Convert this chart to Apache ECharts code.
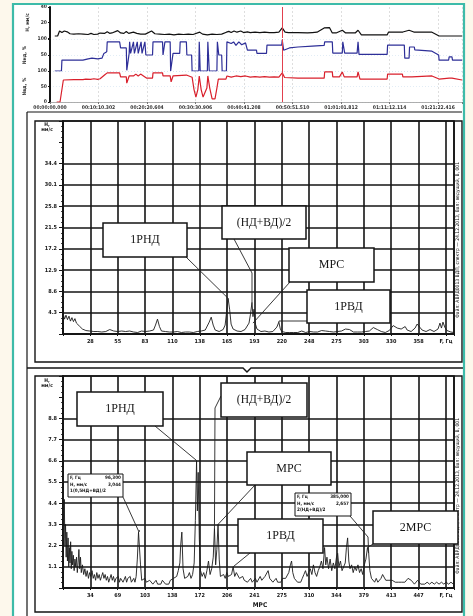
<!DOCTYPE html>
<html>
<head>
<meta charset="utf-8">
<style>
  html, body { margin: 0; padding: 0; background: #fdf8ec; }
  #chart { width: 473px; height: 616px; }
</style>
<script src="https://cdn.jsdelivr.net/npm/echarts@6.0.0/dist/echarts.min.js"></script>
</head>
<body>
<div id="chart"></div>
<script>
// ---- trend panel (time in minutes) ----
const trendStep = 10.1717          // 00:10:10.302 between time ticks
const trendEnd = 86.4
const cursorTime = 48.74

const vibTrace = [[1.0,2.6],[1.6,2.6],[2.0,9],[2.5,7],[3.0,9],[3.6,8],[4.2,5.5],[5,5],[6,5.5],[7,5],[8,4.5],[8.6,6],[9.2,4.5],[10,5],[10.5,6.4],[11.5,6],[12,8],[12.5,6],[13,6.5],[14.2,9.5],[14.8,6.5],[15.5,6],[16,8.5],[16.5,6],[17.5,7.5],[18.2,6],[19,5],[20,5],[21.3,9],[22,5.5],[23,5],[24,4.5],[25,5],[26,4],[27,5],[28,4.5],[29,5],[30,4.5],[31.4,7.5],[32,5],[33,4],[34,5],[35,4.5],[36,5],[37,7.5],[37.5,8.5],[38,7],[38.6,9],[39.2,7.5],[40,9],[40.6,7],[41.4,8],[42,7],[43,7.5],[44,7],[45,7.5],[46,7],[47,7],[48,7.5],[48.7,13],[49.3,7.5],[50,7],[52,7],[54,6.5],[55,7],[56,7.5],[57.5,13],[58.6,13.5],[59.2,6.5],[60,6.5],[61.3,10],[62,6.5],[64,6.5],[64.6,10],[65.3,4],[68,4],[70.7,4],[71,7.7],[72,7.5],[74,7.7],[75.3,10],[76.3,7.7],[78,7.5],[80,7.7],[81.6,2.6],[84,2.6],[86.4,2.6]]

const lpTrace = [[1.0,0],[2.4,0],[2.5,34],[6.9,34],[7.3,40],[8,38],[8.8,40],[9.2,36],[10,38],[10.9,40],[11.3,55],[11.9,60],[12,91],[14.6,91],[14.8,72],[16.0,72],[16.1,2],[16.6,55],[16.7,91],[16.9,55],[17.5,91],[17.7,55],[18.3,91],[18.5,55],[19.1,91],[19.3,55],[19.9,91],[20.1,50],[21.5,50],[21.6,91],[23.6,91],[23.7,50],[24.0,50],[24.1,91],[25.2,91],[25.3,0],[25.7,0],[25.8,55],[27.2,55],[27.3,91],[28.6,91],[28.7,50],[29.7,50],[29.8,0],[31.2,0],[31.3,91],[31.5,0],[33.0,0],[33.1,91],[33.4,0],[35.0,0],[35.1,91],[35.4,50],[36.0,50],[36.1,0],[37.0,0],[37.1,91],[38,86],[38.5,91],[39,80],[39.6,91],[40.2,82],[41,88],[41.4,65],[43.3,65],[43.4,55],[45.4,55],[45.5,81],[48.6,81],[48.7,97],[49.0,65],[50.2,72],[52,75],[55,78],[57.5,80],[57.6,91],[59.2,91],[59.3,56],[61.3,56],[61.4,91],[61.8,56],[64.4,56],[64.6,91],[64.8,52],[70.7,52],[70.8,81],[74.3,81],[74.4,40],[75.3,40],[75.4,75],[76.4,75],[76.5,66],[80.1,62],[81.5,50],[81.6,34],[83.6,34],[83.7,44],[84.3,44],[84.4,34],[86.4,34]]

const hpTrace = [[1.4,0],[2.1,0],[2.8,71],[5,72],[6.9,72],[7.5,74],[8.5,73],[9.2,75],[10,73],[10.5,75],[11.5,88],[12,94],[14.6,94],[14.8,81],[16.0,81],[16.1,61],[16.6,84],[17,90],[17.5,84],[18,90],[18.5,84],[19,90],[19.6,84],[20.3,77],[21.5,77],[21.6,94],[23.6,94],[23.7,84],[25.2,84],[25.4,65],[25.8,84],[26,87],[28.6,87],[28.8,84],[29.8,80],[30.2,40],[30.6,16],[31.0,40],[31.3,84],[31.7,40],[32.1,16],[32.5,14],[32.9,45],[33.1,84],[33.5,45],[34.0,10],[34.6,10],[35.0,45],[35.3,74],[36.9,74],[37.1,84],[38,80],[39,84],[40,82],[41,84],[42,80],[43,82],[44,80],[45,82],[46,80],[47,81],[48,80],[48.7,94],[49.2,79],[52,77],[55,77],[57.5,77],[57.6,97],[59.2,97],[59.3,81],[60.7,81],[61.3,97],[61.7,81],[64.4,81],[64.6,97],[65.0,74],[70.7,74],[70.8,90],[73.9,90],[74.0,81],[75.9,81],[76.0,84],[80.1,84],[81.6,74],[83.7,77],[84.3,77],[84.4,71],[86.4,71]]

// ---- spectrum 1 ----
const midStep = 27.5
const midMax = 393.1
const midXLabels = ['28','55','83','110','138','165','193','220','248','275','303','330','358','F, Гц']
const midYTicks = [4.3, 8.6, 12.9, 17.2, 21.5, 25.8, 30.1, 34.4]
const midSpectrum = [[0,4.2],[1.5,3.0],[3,3.8],[4.5,2.9],[6,3.6],[7.5,2.6],[9,3.3],[10.5,2.5],[12,3.1],[13.5,2.2],[15,2.6],[16.5,1.6],[18,1.9],[19.5,1.0],[21,1.4],[23,0.7],[25,1.0],[27,0.6],[29,0.8],[31,0.5],[33,0.9],[35,0.5],[37,0.6],[39,0.4],[41,0.7],[43,0.5],[45,0.8],[47,0.9],[49,0.5],[51,0.6],[53,0.4],[55,0.5],[57,0.3],[59,0.6],[61,0.4],[63,0.5],[65,0.3],[67,0.6],[69,0.7],[71,0.4],[73,0.5],[75,0.3],[77,0.4],[79,0.6],[81,0.4],[83,0.5],[85,0.4],[87,0.6],[89,0.5],[91,0.8],[93,1.8],[95,3.0],[97,1.5],[99,0.6],[101,0.4],[103,0.5],[105,0.3],[107,0.4],[109,0.3],[111,0.4],[113,0.3],[115,0.5],[117,0.4],[119,0.3],[121,0.5],[123,0.4],[125,0.6],[127,0.4],[129,0.5],[131,0.3],[133,0.4],[135,0.5],[137,0.4],[139,0.6],[141,0.5],[143,0.8],[145,1.2],[147,2.4],[149,3.4],[151,1.8],[153,0.8],[155,0.6],[157,0.5],[159,0.7],[161,0.9],[163,1.8],[164.5,4.5],[166,7.2],[167.5,5.0],[169,2.0],[171,1.0],[173,0.8],[175,0.6],[177,0.7],[179,0.5],[181,0.8],[183,0.9],[185,1.2],[187,2.2],[188.5,4.0],[190,6.4],[191,3.5],[192,5.0],[193.5,2.0],[195,1.0],[197,0.7],[199,0.5],[201,0.4],[203,0.6],[205,0.5],[207,0.4],[209,0.6],[211,0.5],[213,0.7],[215,1.4],[217,2.4],[218.5,1.0],[220,0.5],[222,0.4],[224,0.3],[226,0.4],[228,0.3],[230,0.4],[232,0.3],[234,0.5],[236,0.3],[238,0.4],[240,0.6],[242,0.4],[244,0.3],[246,0.4],[248,0.5],[250,0.3],[252,0.4],[254,0.5],[256,0.4],[258,0.6],[260,0.7],[262,0.9],[264,0.6],[266,0.4],[268,0.5],[270,0.3],[272,0.4],[274,0.3],[276,0.5],[278,0.4],[280,0.6],[282,0.8],[284,1.0],[286,1.2],[288,0.9],[290,0.6],[292,0.4],[294,0.3],[296,0.4],[298,0.3],[300,0.4],[302,0.3],[304,0.5],[306,0.4],[308,0.6],[310,0.8],[312,1.3],[314,1.4],[316,0.9],[318,0.6],[320,0.5],[322,0.4],[324,0.3],[326,0.5],[328,0.7],[330,1.1],[332,1.7],[334,2.1],[336,1.2],[338,0.8],[340,1.0],[342,1.4],[344,1.5],[346,0.8],[348,0.6],[350,0.5],[352,0.7],[354,1.2],[356,2.0],[357,2.4],[359,1.3],[361,0.8],[363,0.6],[365,0.5],[367,0.7],[369,0.9],[371,0.6],[373,0.5],[375,0.6],[377,1.0],[379,2.2],[380.5,1.2],[382,2.4],[384,1.3],[386,0.7],[388,0.5],[390,0.4],[393,0.3]]
const midNoteLabels = ['1РНД', '(НД+ВД)/2', 'МРС', '1РВД']
const midNoteAnchors = [[166, 7.2], [190, 6.4], [191, 2.2], [217, 2.4]]

// ---- spectrum 2 ----
const lowStep = 34.4
const lowMax = 491.8
const lowXLabels = ['34','69','103','138','172','206','241','275','310','344','379','413','447','F, Гц']
const lowYTicks = [1.1, 2.2, 3.3, 4.4, 5.5, 6.6, 7.7, 8.8]
const lowSpectrum = [[0,6.2],[0.8,2.6],[1.6,4.6],[2.4,2.2],[3.2,3.3],[4,1.6],[4.8,2.9],[5.6,1.4],[6.4,2.6],[7.2,1.1],[8,2.1],[8.8,1.3],[9.6,2.4],[10.4,1.0],[11.2,1.9],[12,1.2],[13,1.7],[14,0.9],[15,1.5],[16,1.1],[17,1.6],[18,0.8],[19,1.3],[20,2.0],[21,1.0],[22,1.6],[23,0.8],[24.5,1.2],[26,0.7],[27.5,1.0],[29,0.6],[30.5,0.9],[32,0.5],[33.5,0.8],[35,0.6],[36.5,0.9],[38,0.5],[39.5,0.7],[41,0.4],[42.5,0.8],[44,0.5],[45.5,0.7],[47,0.4],[48.5,0.6],[50,0.8],[51.5,0.5],[53,0.7],[54.5,0.4],[56,0.6],[57.5,0.3],[59,0.5],[60.5,0.7],[62,0.4],[63.5,0.6],[65,0.3],[66.5,0.5],[68,0.4],[69.5,0.6],[71,0.3],[72.5,0.5],[74,0.6],[75.5,0.3],[77,0.4],[78.5,0.6],[80,0.3],[81.5,0.5],[83,0.4],[84.5,0.6],[86,0.3],[87.5,0.4],[89,0.5],[90.5,0.3],[92,0.6],[93.5,1.5],[95,2.9],[96.3,3.0],[97.5,1.2],[99,0.4],[101,0.3],[103,0.5],[105,0.3],[107,0.2],[109,0.4],[111,0.3],[113,0.2],[115,0.3],[117,0.4],[119,0.2],[121,0.3],[123,0.2],[125,0.4],[127,0.3],[129,0.2],[131,0.3],[133,0.2],[135,0.4],[137,0.3],[139,0.5],[141,0.4],[143,0.6],[145,0.9],[147,1.3],[148,2.2],[149.5,2.9],[151,1.0],[153,0.5],[155,0.4],[157,0.6],[159,0.8],[161,0.5],[163,0.7],[165,1.3],[166.5,3.5],[168,6.6],[169,4.0],[170,6.0],[171.5,2.5],[173,0.9],[175,0.6],[177,0.8],[179,0.5],[181,0.9],[183,1.4],[185,0.7],[187,1.0],[189,1.6],[190.5,3.1],[192,1.2],[193.5,2.0],[195,3.3],[196.5,1.5],[198,0.6],[200,0.5],[202,0.7],[204,0.5],[206,0.8],[208,0.6],[210,0.5],[212,0.7],[214,1.1],[216,0.6],[218,0.8],[220,0.9],[222,0.5],[224,0.4],[226,0.6],[228,0.4],[230,0.5],[232,0.3],[234,0.4],[236,0.5],[238,0.3],[240,0.4],[242,0.5],[244,0.3],[246,0.4],[248,0.6],[250,0.4],[252,0.5],[254,0.6],[256,0.7],[258,0.9],[260,0.5],[262,0.4],[264,0.3],[266,0.4],[268,0.5],[270,0.3],[272,0.4],[274,0.3],[276,0.5],[278,0.4],[280,0.5],[282,0.6],[284,0.8],[286,1.2],[287.5,1.4],[289,0.8],[291,0.5],[293,0.4],[295,0.3],[297,0.4],[299,0.3],[301,0.5],[303,0.7],[305,0.9],[307,0.6],[309,0.8],[311,1.0],[313,0.7],[315,1.2],[317,0.8],[319,0.6],[321,0.9],[323,1.1],[325,1.4],[327,1.0],[329,2.1],[330.5,1.2],[332,1.6],[334,1.0],[336,1.5],[338,0.9],[340,1.3],[342,1.0],[344,1.6],[345.5,1.8],[347,1.1],[349,1.4],[351,0.9],[353,1.0],[355,1.3],[356.5,2.1],[358,2.6],[359.5,1.4],[361,1.0],[363,1.2],[365,0.8],[367,1.1],[369,0.9],[371,1.2],[373,0.8],[375,1.0],[377,0.7],[379,1.2],[381,1.5],[383,2.1],[384.5,1.8],[386,0.9],[388,0.5],[390,0.4],[392,0.3],[394,0.5],[396,0.3],[398,0.4],[400,0.5],[402,0.7],[404,0.6],[406,0.4],[408,0.3],[410,0.4],[412,0.3],[414,0.4],[416,0.5],[418,0.3],[420,0.4],[422,0.3],[424,0.4],[426,0.3],[428,0.2],[430,0.3],[432,0.4],[434,0.5],[436,0.6],[438,0.4],[440,0.3],[442,0.2],[444,0.3],[446,0.4],[448,0.3],[450,0.2],[452,0.3],[455,0.2],[458,0.3],[461,0.2],[464,0.3],[467,0.2],[470,0.3],[473,0.2],[476,0.3],[479,0.2],[482,0.3],[485,0.2],[488,0.3],[491,0.2]]
const lowNoteLabels = ['1РНД', '(НД+ВД)/2', 'МРС', '1РВД', '2МРС']
const lowNoteAnchors = [[168, 6.6], [190.5, 3.1], [195, 3.3], [214, 1.1], [383, 2.1]]
const cursorLabels = [['F, Гц', '96,300', 'Н, мм/с', '3,044', '1(0,5НД+ВД)/2'], ['F, Гц', '385,000', 'Н, мм/с', '2,657', '2(НД+ВД)/2']]
const cursorAnchors = [[96.3, 3.0], [384.5, 1.8]]

// ---- layout (pixels) ----
const midBoxes = [
  { x: 103, y: 223, w: 84, h: 34, size: 12, bend: [[186, 257]] },
  { x: 222, y: 206, w: 84, h: 33, size: 11.5, bend: [[234, 239], [252, 273]] },
  { x: 289, y: 248, w: 85, h: 34, size: 12, bend: [[290, 282]] },
  { x: 307, y: 290, w: 83, h: 33, size: 12, bend: [[307, 321], [279, 321]] }
]
const lowBoxes = [
  { x: 77, y: 392, w: 86, h: 34, size: 12, bend: [[155, 426], [196, 460]] },
  { x: 221, y: 383, w: 86, h: 34, size: 11.5, bend: [[221, 396], [215, 408]] },
  { x: 247, y: 452, w: 84, h: 33, size: 12, bend: [[255, 485]] },
  { x: 238, y: 519, w: 85, h: 34, size: 12, bend: [[250, 553]] },
  { x: 373, y: 511, w: 85, h: 33, size: 12, bend: [[373, 544]] }
]
const cursorBoxes = [
  { x: 68, y: 474, w: 55, h: 23, bend: [[123, 497], [139, 532]] },
  { x: 295, y: 493, w: 56, h: 23, bend: [[350, 516], [368, 537]] }
]

const INK = '#151515'
const TICK_FONT = "'Liberation Sans Narrow', 'DejaVu Sans Condensed', 'Liberation Sans', sans-serif"
const BOX_FONT = "'Liberation Serif', 'DejaVu Serif', serif"

const pad = (n, l = 2) => String(n).padStart(l, '0')
const timeLabel = (min) => {
  if (Math.abs(min / trendStep - Math.round(min / trendStep)) > 1e-3) return ''
  const ms = Math.round(Math.round(min / trendStep) * trendStep * 60000)
  return pad(Math.floor(ms / 3600000)) + ':' + pad(Math.floor(ms / 60000) % 60) + ':' +
    pad(Math.floor(ms / 1000) % 60) + '.' + pad(ms % 1000, 3)
}
const stepLabel = (labels, step) => (v) => {
  const k = Math.round(v / step)
  if (k < 1 || Math.abs(v - k * step) > 1e-3) return ''
  return labels[k - 1] || ''
}
const tickLabel = (ticks) => (v) => ticks.some(t => Math.abs(t - v) < 1e-3) ? v.toFixed(1) : ''

const trendGrids = [
  { left: 50, right: 11, top: 7, height: 31 },
  { left: 50, right: 11, top: 39, height: 32 },
  { left: 50, right: 11, top: 71, height: 31 }
]
const trendNames = ['Н, мм/с', 'Nнд, %', 'Nвд, %']
const trendMax = [40, 100, 100]
const trendInterval = [20, 50, 50]
const trendShown = [[20, 40], [50, 100], [0, 50, 100]]
const trendData = [vibTrace, lpTrace, hpTrace]
const trendColors = ['#111111', '#2e2f98', '#d9202c']

const trendX = trendGrids.map((g, i) => ({
  type: 'value', gridIndex: i, min: 0, max: trendEnd, interval: trendStep,
  axisLine: { show: i === 2, lineStyle: { color: '#9a9a9a', width: 0.8 } },
  axisTick: { show: i === 2, length: 2, lineStyle: { color: '#777' } },
  axisLabel: { show: i === 2, formatter: timeLabel, fontSize: 5, color: '#333', margin: 3, fontFamily: TICK_FONT, fontWeight: 'bold' },
  splitLine: { show: true, lineStyle: { color: '#c8c8c8', width: 0.6, type: [2, 2] } }
}))
const trendY = trendGrids.map((g, i) => ({
  type: 'value', gridIndex: i, min: 0, max: trendMax[i], interval: trendInterval[i],
  name: trendNames[i], nameLocation: 'middle', nameRotate: 90, nameGap: 11,
  nameTextStyle: { fontSize: 5, color: '#333', fontFamily: TICK_FONT, fontWeight: 'bold' },
  axisLine: { show: true, lineStyle: { color: INK, width: 2 } },
  axisTick: { show: true, length: 2, lineStyle: { color: INK } },
  axisLabel: {
    fontSize: 5, color: '#333', margin: 3, fontFamily: TICK_FONT, fontWeight: 'bold',
    formatter: (v) => trendShown[i].includes(v) ? String(v) : ''
  },
  splitLine: { show: i > 0, lineStyle: { color: '#cfe0f0', width: 0.6, type: [1, 2] } }
}))
const trendSeries = trendData.map((d, i) => ({
  type: 'line', xAxisIndex: i, yAxisIndex: i, data: d, symbol: 'none',
  lineStyle: { color: trendColors[i], width: 1.2 }, z: 3,
  markLine: {
    silent: true, symbol: ['none', 'none'], label: { show: false },
    lineStyle: { color: '#e2404e', width: 1, type: 'solid' },
    data: [{ xAxis: cursorTime }]
  }
}))

const specX = (grid, step, max, labels) => ({
  type: 'value', gridIndex: grid, min: 0, max: max, interval: step,
  axisLine: { show: true, lineStyle: { color: INK, width: 2 } },
  axisTick: { show: true, length: 2, lineStyle: { color: INK } },
  axisLabel: { formatter: stepLabel(labels, step), fontSize: 5.5, color: INK, margin: 5, fontFamily: TICK_FONT, fontWeight: 'bold' },
  splitLine: { show: true, lineStyle: { color: INK, width: 1.6 } }
})
const specY = (grid, max, interval, ticks) => ({
  type: 'value', gridIndex: grid, min: 0, max: max, interval: interval,
  axisLine: { show: true, lineStyle: { color: INK, width: 2 } },
  axisTick: { show: true, length: 4, lineStyle: { color: INK } },
  minorTick: { show: true, splitNumber: 4, length: 2, lineStyle: { color: INK, width: 0.8 } },
  axisLabel: { formatter: tickLabel(ticks), fontSize: 5.5, color: INK, margin: 6, fontFamily: TICK_FONT, fontWeight: 'bold' },
  splitLine: { show: false }
})
const specSeries = (idx, data, ticks) => ({
  type: 'line', xAxisIndex: idx, yAxisIndex: idx, data: data, symbol: 'none',
  lineStyle: { color: '#1c1c1c', width: 0.9 }, z: 3,
  markLine: {
    silent: true, symbol: ['none', 'none'], label: { show: false },
    lineStyle: { color: INK, width: 1.6, type: 'solid' },
    data: ticks.map(t => ({ yAxis: t }))
  }
})

const chart = echarts.init(document.getElementById('chart'))
chart.setOption({
  animation: false,
  backgroundColor: '#fdf8ec',
  grid: [
    ...trendGrids,
    { left: 63, right: 19, top: 121, height: 213, show: true, borderColor: INK, borderWidth: 1.6, backgroundColor: 'transparent' },
    { left: 63, right: 19, top: 376, height: 212, show: true, borderColor: INK, borderWidth: 1.6, backgroundColor: 'transparent' }
  ],
  xAxis: [...trendX, specX(3, midStep, midMax, midXLabels), specX(4, lowStep, lowMax, lowXLabels)],
  yAxis: [...trendY, specY(3, 43, 4.3, midYTicks), specY(4, 11, 1.1, lowYTicks)],
  series: [...trendSeries, specSeries(3, midSpectrum, midYTicks), specSeries(4, lowSpectrum, lowYTicks)]
})

// ---- frames, note boxes and leaders ----
const els = []
const line = (pts, stroke, w, z) => els.push({ type: 'polyline', shape: { points: pts }, style: { stroke, lineWidth: w, fill: null }, z, silent: true })
const rect = (x, y, w, h, fill, stroke, lw, z) => els.push({ type: 'rect', shape: { x, y, width: w, height: h }, style: { fill, stroke, lineWidth: lw }, z, silent: true })
const text = (x, y, t, font, align, z, extra) => els.push(Object.assign({ type: 'text', x, y, style: { text: t, font, fill: INK, align, verticalAlign: 'middle' }, z, silent: true }, extra || {}))

rect(13, 4, 451, 612, '#ffffff', null, 0, -20)
line([[13, 617], [13, 4], [464, 4], [464, 617]], '#3dbba9', 2.2, 30)
line([[27, 112], [462, 112]], INK, 1.2, 1)
line([[27, 112], [27, 616]], INK, 1.2, 1)
rect(35, 121, 427, 241, null, INK, 1.4, 1)
line([[27, 368], [243, 368], [247, 372], [251, 368], [463, 368]], INK, 1.4, 1)
rect(35, 376, 427, 236, null, INK, 1.4, 1)

text(47, 127, 'Н,\nмм/с', 'bold 5px ' + TICK_FONT, 'center', 5)
text(47, 383, 'Н,\nмм/с', 'bold 5px ' + TICK_FONT, 'center', 5)
text(260, 605, 'МРС', 'bold 6.5px ' + TICK_FONT, 'center', 5)
text(458, 240, 'Файл: АВРД0013 ВДП, спектр — 24.12.2013, Вал: ведущий, В, 001', '5px ' + TICK_FONT, 'center', 5, { rotation: Math.PI / 2 })
text(458, 496, 'Файл: АВРД0013 ВДП, спектр — 24.12.2013, Вал: ведущий, В, 001', '5px ' + TICK_FONT, 'center', 5, { rotation: Math.PI / 2 })

const addNotes = (gridIndex, labels, anchors, boxes) => {
  labels.forEach((lab, i) => {
    const b = boxes[i]
    const p = chart.convertToPixel({ gridIndex }, anchors[i])
    line([...b.bend, p], '#222', 0.9, 10)
    rect(b.x, b.y, b.w, b.h, '#ffffff', INK, 1.5, 12)
    text(b.x + b.w / 2, b.y + b.h / 2, lab, b.size + 'px ' + BOX_FONT, 'center', 13)
  })
}
addNotes(3, midNoteLabels, midNoteAnchors, midBoxes)
addNotes(4, lowNoteLabels, lowNoteAnchors, lowBoxes)

cursorLabels.forEach((c, i) => {
  const b = cursorBoxes[i]
  const p = chart.convertToPixel({ gridIndex: 4 }, cursorAnchors[i])
  line([...b.bend, p], '#222', 0.9, 10)
  rect(b.x, b.y, b.w, b.h, '#ffffff', INK, 1, 12)
  const f = 'bold 4.6px ' + TICK_FONT
  text(b.x + 2, b.y + 4, c[0], f, 'left', 13)
  text(b.x + b.w - 2, b.y + 4, c[1], f, 'right', 13)
  text(b.x + 2, b.y + 10.5, c[2], f, 'left', 13)
  text(b.x + b.w - 2, b.y + 10.5, c[3], f, 'right', 13)
  text(b.x + 2, b.y + 17, c[4], f, 'left', 13)
})

chart.setOption({ graphic: { elements: els } })
</script>
</body>
</html>
